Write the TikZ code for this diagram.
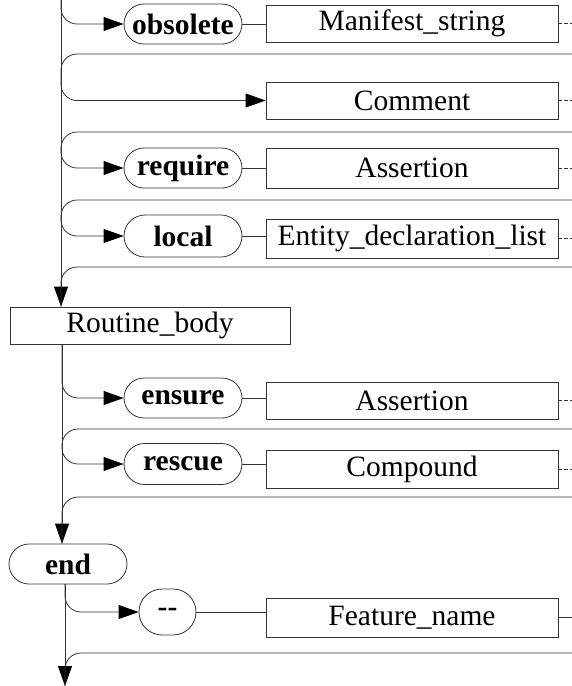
\documentclass[tikz,border=0pt]{standalone}
\usepackage{fontspec}
\setmainfont{Liberation Serif}
\usetikzlibrary{arrows.meta,shapes.misc}
\newcommand\rrfont{\fontsize{29.5}{32}\selectfont}
\tikzset{
  line/.style={draw=black!80, line width=0.8pt},
  arr/.style={line, rounded corners=16pt, -{Triangle[length=20pt,width=14pt,color=black,fill=black]}},
  turn/.style={line, rounded corners=16pt},
  stub/.style={line, dash pattern=on 4pt off 2pt},
  keyw/.style={draw=black!80, line width=0.8pt, rounded rectangle, minimum width=120pt,
    minimum height=40pt, inner sep=1pt, font=\rrfont\bfseries},
  nterm/.style={draw=black!80, line width=0.8pt, rectangle, minimum width=292pt,
    minimum height=38pt, inner sep=0pt, font=\rrfont}
}
\begin{document}
\begin{tikzpicture}[x=1pt,y=-1pt]
  \useasboundingbox (0,0) rectangle (572,686);
  % spine and right edge
  \coordinate (edge) at (572,0);
  \coordinate (sp1) at (61,0);
  \coordinate (sp2) at (62,344);
  \coordinate (sp3) at (65,584);
  \coordinate (sp4) at (65,686);
  \foreach \n/\y in {ret1/54,ret2/132,ret3/200,ret4/267,ret5/429,ret6/497,ret7/653}
    \coordinate (\n) at (572,\y);

  % upper part
  \node[keyw] (obs) at (183,24) {obsolete};
  \node[nterm, minimum height=37pt] (manif) at (412,23.5) {Manifest\_string};
  \node[nterm, minimum height=37pt] (comm) at (412,100.5) {Comment};
  \node[keyw] (req) at (183,168) {require};
  \node[nterm, minimum height=40pt] (asrt1) at (412,168) {Assertion};
  \node[keyw, minimum height=42pt] (loc) at (183,236) {local};
  \node[nterm, minimum height=39pt] (edl) at (412,238.5) {Entity\_declaration\_list};
  \node[nterm, minimum width=280pt, minimum height=37pt] (rbody) at (150,325.5) {Routine\_body};

  \draw[arr] (sp1) -- (sp1 |- rbody.north);
  \draw[arr] (sp1) |- (obs.west);
  \draw[line] (obs.east) -- (obs.east -| manif.west);
  \draw[stub] (manif.east) -- (manif.east -| edge);
  \draw[arr] (ret1) -| (sp1 |- comm.west) -- (comm.west);
  \draw[stub] (comm.east) -- (comm.east -| edge);
  \draw[arr] (ret2) -| (sp1 |- req.west) -- (req.west);
  \draw[line] (req.east) -- (req.east -| asrt1.west);
  \draw[stub] (asrt1.east) -- (asrt1.east -| edge);
  \draw[arr] (ret3) -| (sp1 |- loc.west) -- (loc.west);
  \draw[line] (loc.east) -- (loc.east -| edl.west);
  \draw[stub] (edl.east) -- (edl.east -| edge);
  \draw[turn] (ret4) -| (sp1 |- rbody.north);

  % lower part
  \node[keyw] (ens) at (183,398) {ensure};
  \node[nterm, minimum height=37pt] (asrt2) at (412,400.5) {Assertion};
  \node[keyw, minimum height=41pt] (resc) at (183,464) {rescue};
  \node[nterm] (comp) at (412,469) {Compound};
  \node[keyw] (endk) at (68,564) {end};
  \node[keyw, minimum width=59pt, minimum height=46pt] (dash) at (167.5,612) {-{}-};
  \node[nterm, minimum height=39pt] (fname) at (412,617.5) {Feature\_name};

  \draw[arr] (sp2) -- (sp2 |- endk.north);
  \draw[arr] (sp2) |- (ens.west);
  \draw[line] (ens.east) -- (ens.east -| asrt2.west);
  \draw[stub] (asrt2.east) -- (asrt2.east -| edge);
  \draw[arr] (ret5) -| (sp2 |- resc.west) -- (resc.west);
  \draw[line] (resc.east) -- (resc.east -| comp.west);
  \draw[stub] (comp.east) -- (comp.east -| edge);
  \draw[turn] (ret6) -| (sp2 |- endk.north);
  \draw[arr] (sp3) -- (sp4);
  \draw[arr] (sp3) |- (dash.west);
  \draw[line] (dash.east) -- (dash.east -| fname.west);
  \draw[line] (fname.east) -- (fname.east -| edge);
  \draw[turn] (ret7) -| (sp4);
\end{tikzpicture}
\end{document}
